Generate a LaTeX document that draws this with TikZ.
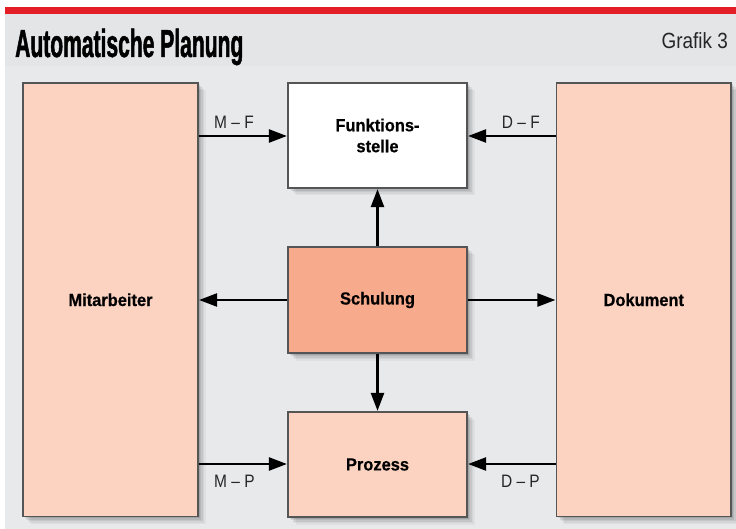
\documentclass[tikz,border=0pt]{standalone}
\usepackage{fontspec}
\setmainfont{Liberation Sans}
\newfontfamily\titlefont{Liberation Sans}[FakeStretch=0.54,FakeBold=1.2]
\newfontfamily\condfont{Liberation Sans}[FakeStretch=0.86]
\newfontfamily\boxfont{Liberation Sans}[FakeStretch=0.94,FakeBold=0.6]
\usetikzlibrary{arrows.meta}
\definecolor{redbar}{HTML}{E41E26}
\definecolor{panel}{HTML}{E4E5E7}
\definecolor{panellight}{HTML}{E8E9EB}
\definecolor{peach}{HTML}{FCD3C1}
\definecolor{salmon}{HTML}{F8AA8C}
\definecolor{edge}{HTML}{555555}
\tikzset{
  box/.style={draw=edge, line width=1.2pt, fill=peach, inner sep=0pt,
    font=\boxfont\bfseries\fontsize{17.5}{21}\selectfont, align=center, text=black},
  conn/.style={line width=2.4pt, -{Triangle[length=18pt,width=13pt]}, shorten >=0.5pt},
  lbl/.style={font=\condfont\fontsize{18}{20}\selectfont, inner sep=0pt, text=black!85}
}
\begin{document}
\begin{tikzpicture}[x=1pt,y=-1pt]
\useasboundingbox (0,0) rectangle (736,529);
\fill[white] (0,0) rectangle (736,529);
\fill[panel] (5,14) rectangle (736,529);
\fill[panellight] (5,66) rectangle (736,529);
\fill[redbar] (5,7) rectangle (736,14.5);
\node[anchor=base west, inner sep=0pt, font=\titlefont\bfseries\fontsize{39}{42}\selectfont] (title) at (15,57) {Automatische Planung};
\node[anchor=base east, inner sep=0pt, font=\condfont\fontsize{22}{24}\selectfont, text=black!85] (grafik) at (728,49) {Grafik 3};
% box corners for shadows
\path (23,83) coordinate (mnw) (198,516.5) coordinate (mse);
\path (556.5,83) coordinate (dnw) (731,516.5) coordinate (dse);
\path (288,83) coordinate (fnw) (467,188) coordinate (fse);
\path (288,247) coordinate (snw) (467,353) coordinate (sse);
\path (288,412) coordinate (pnw) (467,517) coordinate (pse);
\foreach \a/\b in {mnw/mse,dnw/dse,fnw/fse,snw/sse,pnw/pse}{
  \foreach \d/\o in {1.5/0.10,3/0.08,4.5/0.06,6/0.05,7.5/0.04}{
    \fill[black, opacity=\o] ([xshift=\d pt, yshift=-\d pt]\a) rectangle ([xshift=\d pt, yshift=-\d pt]\b);
  }
}
\node[box, minimum width=175pt, minimum height=433.5pt] (mit) at (110.5,299.75) {Mitarbeiter};
\node[box, minimum width=174.5pt, minimum height=433.5pt] (dok) at (643.75,299.75) {Dokument};
\node[box, fill=white, minimum width=179pt, minimum height=105pt] (fkt) at (377.5,135.5) {Funktions-\\stelle};
\node[box, fill=salmon, minimum width=179pt, minimum height=106pt] (sch) at (377.5,300) {Schulung};
\node[box, minimum width=179pt, minimum height=105pt] (pro) at (377.5,464.5) {Prozess};
% connectors
\draw[conn] (mit.east |- 0,136) coordinate (mf) -- (fkt.west |- mf);
\draw[conn] (dok.west |- 0,136) coordinate (df) -- (fkt.east |- df);
\draw[conn] (mit.east |- 0,464) coordinate (mp) -- (pro.west |- mp);
\draw[conn] (dok.west |- 0,464) coordinate (dp) -- (pro.east |- dp);
\draw[conn] (sch.west) -- (mit.east |- sch.west);
\draw[conn] (sch.east) -- (dok.west |- sch.east);
\draw[conn] (sch.north) -- (fkt.south);
\draw[conn] (sch.south) -- (pro.north);
% labels
\node[lbl, anchor=base west] (lmf) at (214,129) {M – F};
\node[lbl, anchor=base east] (ldf) at (540,129) {D – F};
\node[lbl, anchor=base west] (lmp) at (214,487) {M – P};
\node[lbl, anchor=base east] (ldp) at (540,487) {D – P};
\end{tikzpicture}
\end{document}
